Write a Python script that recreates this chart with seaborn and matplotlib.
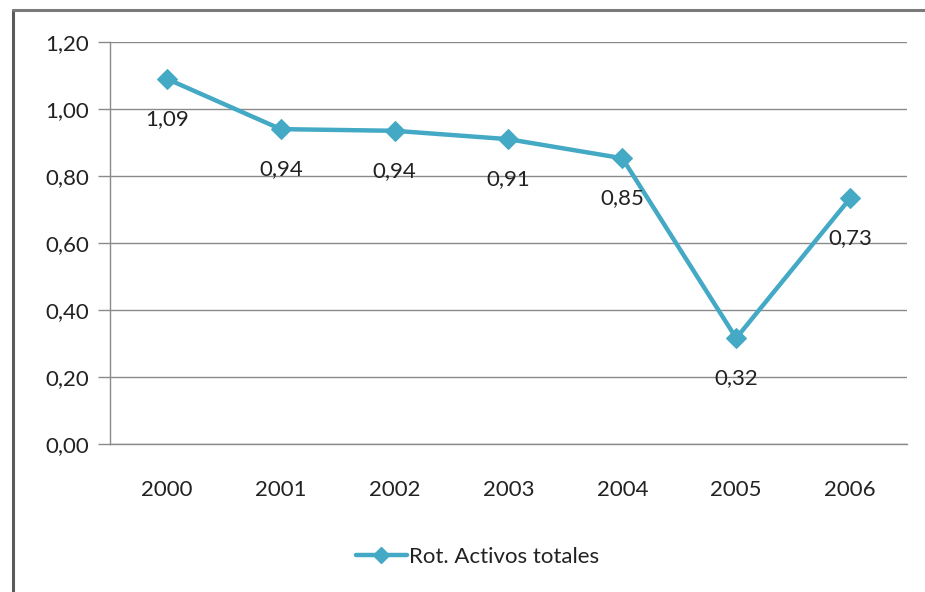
import matplotlib
matplotlib.use("Agg")
import matplotlib.pyplot as plt
from matplotlib.lines import Line2D
from matplotlib.ticker import FuncFormatter, FixedLocator
import seaborn as sns
import pandas as pd

years = [2000, 2001, 2002, 2003, 2004, 2005, 2006]
values = [1.09, 0.94, 0.935, 0.91, 0.853, 0.316, 0.733]
labels = ["1,09", "0,94", "0,94", "0,91", "0,85", "0,32", "0,73"]
series_name = "Rot. Activos totales"

df = pd.DataFrame({"year": years, "value": values, "serie": series_name})

sns.set_style("white")
plt.rcParams["font.family"] = ["Lato", "DejaVu Sans"]

color = "#43A9C4"
fs = 16
fig = plt.figure(figsize=(9.25, 5.92), dpi=100)
ax = fig.add_axes([0.1189, 0.25, 0.9805 - 0.1189, 0.929 - 0.25])

sns.lineplot(data=df, x="year", y="value", hue="serie", palette=[color],
             marker="D", markersize=10, linewidth=3.2, markeredgecolor=color,
             ax=ax, legend=False)

for x, y, t in zip(years, values, labels):
    ax.annotate(t, (x, y), xytext=(0, -40), textcoords="offset pixels",
                ha="center", va="center", fontsize=fs, color="#222222")

ax.set_xlim(1999.5, 2006.5)
ax.set_ylim(0, 1.2)
ax.set_yticks([0, 0.2, 0.4, 0.6, 0.8, 1.0, 1.2])
ax.yaxis.set_major_formatter(FuncFormatter(lambda v, p: f"{v:.2f}".replace(".", ",")))
ax.set_xticks(years)
ax.set_xticklabels([str(y) for y in years])
ax.xaxis.set_minor_locator(FixedLocator([1999.5 + k for k in range(8)]))
ax.tick_params(axis="x", which="major", length=0, pad=26, labelsize=fs, labelcolor="#222222")
ax.tick_params(axis="x", which="minor", length=6, width=1, color="#9a9a9a", direction="out")
ax.tick_params(axis="y", which="major", length=9, width=1, color="#8a8a8a", pad=6,
               labelsize=fs, labelcolor="#222222", left=True)
ax.grid(axis="y", color="#8a8a8a", linewidth=1)
ax.grid(axis="x", visible=False)
ax.set_axisbelow(True)
for s in ["top", "right"]:
    ax.spines[s].set_visible(False)
for s in ["left", "bottom"]:
    ax.spines[s].set_color("#8a8a8a")
    ax.spines[s].set_linewidth(1)
ax.set_xlabel("")
ax.set_ylabel("")

handle = Line2D([], [], color=color, linewidth=3.2, marker="D", markersize=8,
                markeredgecolor=color)
fig.legend([handle], [series_name], loc="center", bbox_to_anchor=(0.516, 0.059),
           frameon=False, fontsize=fs, handlelength=2.3, handletextpad=0.1,
           labelcolor="#222222")

# chart-area border (left and top edges)
fig.add_artist(Line2D([13 / 925, 13 / 925], [0, 1 - 10 / 592], transform=fig.transFigure,
                      color="#5a5a5a", linewidth=2.2))
fig.add_artist(Line2D([13 / 925, 1], [1 - 10 / 592, 1 - 10 / 592], transform=fig.transFigure,
                      color="#7a7a7a", linewidth=2.2))

fig.savefig("out.png", dpi=100)
